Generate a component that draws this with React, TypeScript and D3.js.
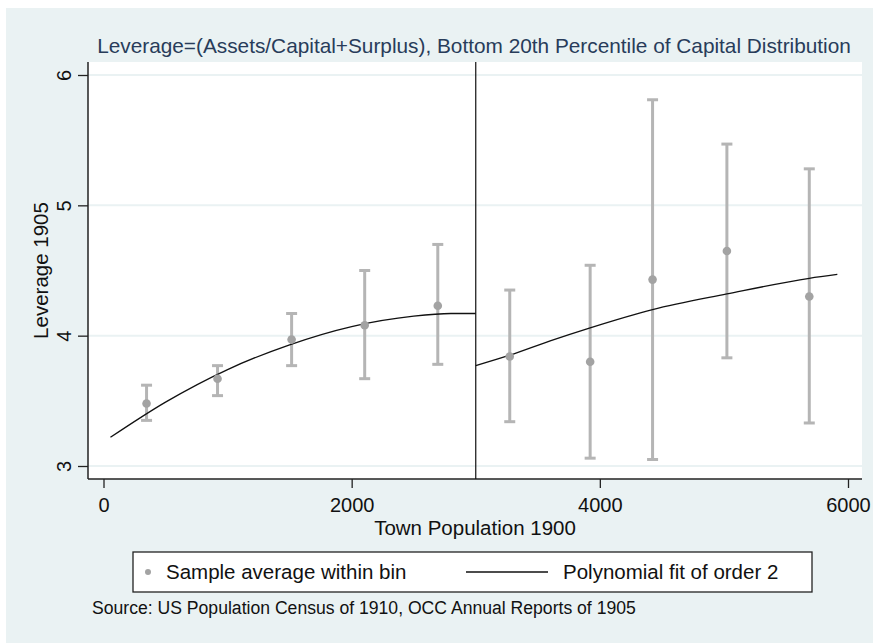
import { useEffect, useRef } from 'react';
import * as d3 from 'd3';

// bin averages with 95% CI
const binX = [347, 919, 1516, 2105, 2694, 3274, 3922, 4425, 5024, 5688];
const binMean = [3.48, 3.67, 3.97, 4.08, 4.23, 3.84, 3.80, 4.43, 4.65, 4.30];
const binLo = [3.35, 3.54, 3.77, 3.67, 3.78, 3.34, 3.06, 3.05, 3.83, 3.33];
const binHi = [3.62, 3.77, 4.17, 4.50, 4.70, 4.35, 4.54, 5.81, 5.47, 5.28];

// polynomial fit, left and right of the cutoff
const fitLeftX = [56, 500, 1000, 1500, 2000, 2500, 2800, 3000];
const fitLeftY = [3.22, 3.49, 3.74, 3.93, 4.07, 4.15, 4.17, 4.17];
const fitRightX = [3000, 3274, 3600, 3922, 4425, 5024, 5688, 5914];
const fitRightY = [3.77, 3.85, 3.96, 4.06, 4.20, 4.32, 4.44, 4.47];

const cutoff = 3000;
const xTicks = [0, 2000, 4000, 6000];
const yTicks = [3, 4, 5, 6];

const titleText = 'Leverage=(Assets/Capital+Surplus), Bottom 20th Percentile of Capital Distribution';
const xLabel = 'Town Population 1900';
const yLabel = 'Leverage 1905';
const legendLabels = ['Sample average within bin', 'Polynomial fit of order 2'];
const sourceText = 'Source: US Population Census of 1910, OCC Annual Reports of 1905';

export default function App() {
  const svgRef = useRef<SVGSVGElement>(null);

  useEffect(() => {
    if (!svgRef.current) return;
    const svg = d3.select(svgRef.current);
    svg.selectAll('*').remove();

    const font = 'Arial, "Liberation Sans", sans-serif';
    const bg = '#eaf2f3';

    svg.append('rect').attr('x', 0).attr('y', 0).attr('width', 873).attr('height', 643).attr('fill', '#fff');
    svg.append('rect').attr('x', 6).attr('y', 8).attr('width', 867).attr('height', 635).attr('fill', bg);

    const left = 88, right = 862, top = 62, bottom = 479;
    svg.append('rect').attr('x', left).attr('y', top).attr('width', right - left).attr('height', bottom - top).attr('fill', '#fff');

    const x = d3.scaleLinear().domain([0, 6000]).range([103.5, 848]);
    const y = d3.scaleLinear().domain([3, 6]).range([466, 75]);

    // gridlines
    svg.append('g').selectAll('line').data(yTicks).enter().append('line')
      .attr('x1', left).attr('x2', right)
      .attr('y1', d => y(d)).attr('y2', d => y(d))
      .attr('stroke', bg).attr('stroke-width', 2);

    // axes
    const yAxis = svg.append('g').attr('transform', `translate(${left},0)`)
      .call(d3.axisLeft(y).tickValues(yTicks).tickSize(10).tickFormat(d3.format('d')));
    yAxis.select('.domain').attr('d', `M0,${top}V${bottom}`).attr('stroke', '#222').attr('stroke-width', 1.5);
    yAxis.selectAll('.tick line').attr('stroke', '#222').attr('stroke-width', 1.3);
    yAxis.selectAll('.tick text')
      .attr('transform', 'rotate(-90)')
      .attr('x', 0).attr('y', -17).attr('dy', 0)
      .style('text-anchor', 'middle')
      .style('font-family', font).style('font-size', '20px').attr('fill', '#111');

    const xAxis = svg.append('g').attr('transform', `translate(0,${bottom})`)
      .call(d3.axisBottom(x).tickValues(xTicks).tickSize(9).tickFormat(d3.format('d')));
    xAxis.select('.domain').attr('d', `M${left},0H${right}`).attr('stroke', '#222').attr('stroke-width', 1.5);
    xAxis.selectAll('.tick line').attr('stroke', '#222').attr('stroke-width', 1.3);
    xAxis.selectAll('.tick text')
      .attr('y', 33).attr('dy', 0)
      .style('font-family', font).style('font-size', '20px').attr('fill', '#111');

    // cutoff line
    svg.append('line')
      .attr('x1', x(cutoff)).attr('x2', x(cutoff))
      .attr('y1', top).attr('y2', bottom)
      .attr('stroke', '#111').attr('stroke-width', 1.2);

    // error bars
    const bars = svg.append('g').attr('stroke', '#b5b5b5').attr('stroke-width', 3);
    binX.forEach((bx, i) => {
      const cx = x(bx);
      bars.append('line').attr('x1', cx).attr('x2', cx).attr('y1', y(binLo[i])).attr('y2', y(binHi[i]));
      bars.append('line').attr('x1', cx - 5.5).attr('x2', cx + 5.5).attr('y1', y(binLo[i])).attr('y2', y(binLo[i]));
      bars.append('line').attr('x1', cx - 5.5).attr('x2', cx + 5.5).attr('y1', y(binHi[i])).attr('y2', y(binHi[i]));
    });

    // fit lines
    const fitLine = d3.line().curve(d3.curveMonotoneX);
    const leftPts = fitLeftX.map((v, i) => [x(v), y(fitLeftY[i])] as [number, number]);
    const rightPts = fitRightX.map((v, i) => [x(v), y(fitRightY[i])] as [number, number]);
    [leftPts, rightPts].forEach(pts => {
      svg.append('path')
        .attr('d', fitLine(pts))
        .attr('fill', 'none').attr('stroke', '#111').attr('stroke-width', 1.3);
    });

    // bin means
    svg.append('g').selectAll('circle').data(binX).enter().append('circle')
      .attr('cx', d => x(d)).attr('cy', (d, i) => y(binMean[i]))
      .attr('r', 4.3).attr('fill', '#a3a3a3');

    // texts
    svg.append('text').attr('x', 474).attr('y', 53).attr('text-anchor', 'middle')
      .style('font-family', font).style('font-size', '20.8px').attr('fill', '#283c5a').text(titleText);
    svg.append('text').attr('x', (left + right) / 2).attr('y', 535).attr('text-anchor', 'middle')
      .style('font-family', font).style('font-size', '20.5px').attr('fill', '#111').text(xLabel);
    svg.append('text').attr('transform', `translate(48,${(top + bottom) / 2}) rotate(-90)`).attr('text-anchor', 'middle')
      .style('font-family', font).style('font-size', '20.5px').attr('fill', '#111').text(yLabel);

    // legend
    const lg = svg.append('g');
    lg.append('rect').attr('x', 133).attr('y', 552).attr('width', 679).attr('height', 40)
      .attr('fill', '#fff').attr('stroke', '#222').attr('stroke-width', 1.3);
    lg.append('circle').attr('cx', 148).attr('cy', 572).attr('r', 3).attr('fill', '#a3a3a3');
    lg.append('text').attr('x', 166).attr('y', 579)
      .style('font-family', font).style('font-size', '20.5px').attr('fill', '#111').text(legendLabels[0]);
    lg.append('line').attr('x1', 466).attr('x2', 548).attr('y1', 572).attr('y2', 572)
      .attr('stroke', '#111').attr('stroke-width', 1.3);
    lg.append('text').attr('x', 563).attr('y', 579)
      .style('font-family', font).style('font-size', '20.5px').attr('fill', '#111').text(legendLabels[1]);

    svg.append('text').attr('x', 92).attr('y', 614)
      .style('font-family', font).style('font-size', '17.6px').attr('fill', '#111').text(sourceText);
  }, []);

  return (
    <svg ref={svgRef} width={873} height={643}
      style={{ position: 'absolute', left: 0, top: 0, display: 'block' }} />
  );
}
